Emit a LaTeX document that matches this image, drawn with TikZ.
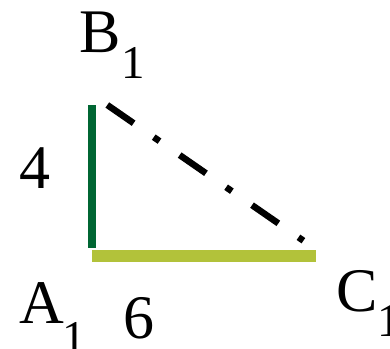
\documentclass[tikz,border=0pt]{standalone}
\usepackage{fontspec}
\setmainfont{Liberation Serif}
\definecolor{sidegreen}{RGB}{0,102,51}
\definecolor{baseolive}{RGB}{178,194,58}
\begin{document}
\begin{tikzpicture}[x=1pt,y=-1pt,
  lbl/.style={inner sep=0pt,outer sep=0pt,anchor=base west,font=\fontsize{62}{62}\selectfont},
  sublbl/.style={inner sep=0pt,outer sep=0pt,anchor=base west,font=\fontsize{47}{47}\selectfont},
  vside/.style={draw=sidegreen,line width=8pt},
  hside/.style={draw=baseolive,line width=12pt},
  hyp/.style={draw=black,line width=6.5pt,dash pattern=on 32pt off 24.5pt on 7pt off 24.5pt}]
\useasboundingbox (0,0) rectangle (390,348);
% corners
\coordinate (Vtop) at (92,105);
\coordinate (Vbot) at (92,248);
\coordinate (Hl) at (92,256);
\coordinate (Hr) at (316,256);
\coordinate (Dtop) at (107.3,105);
\coordinate (Dbot) at (303.4,240.7);
% sides
\draw[vside] (Vtop) -- (Vbot);
\draw[hside] (Hl) -- (Hr);
\draw[hyp] (Dtop) -- (Dbot);
% labels
\node[lbl] (B) at (79,52) {B};
\node[sublbl] (B1) at (121.5,78) {1};
\node[lbl] (four) at (19,188) {4};
\node[lbl] (A) at (19,323) {A};
\node[sublbl] (A1) at (62.7,353) {1};
\node[lbl] (six) at (123,338) {6};
\node[lbl] (C) at (336,311) {C};
\node[sublbl] (C1) at (377,336) {1};
\end{tikzpicture}
\end{document}
